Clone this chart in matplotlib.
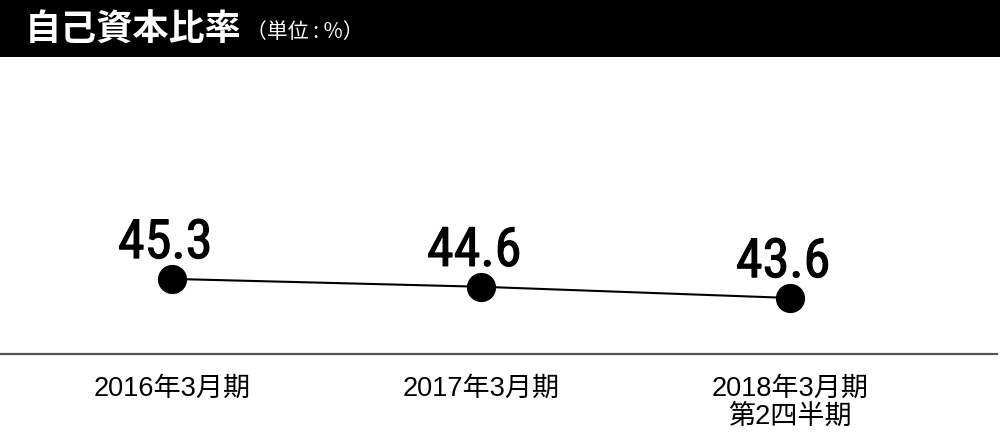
import matplotlib.pyplot as plt
import matplotlib.patheffects as pe
from matplotlib.patches import Rectangle

# Data ---------------------------------------------------------------------
periods = ['2016年3月期', '2017年3月期', '2018年3月期\n第2四半期']
ratio = [45.3, 44.6, 43.6]

title = '自己資本比率'
unit = '（単位 : %）'

cjk = ['Liberation Sans', 'Noto Sans CJK JP', 'DejaVu Sans']
plt.rcParams['font.family'] = cjk
num_fonts = ['Roboto Condensed', 'DejaVu Sans Condensed', 'Liberation Sans Narrow',
             'Roboto', 'DejaVu Sans']

W, H = 1000, 433
fig = plt.figure(figsize=(W / 100, H / 100), dpi=100)

# black header band
fig.patches.append(Rectangle((0, 1 - 57 / H), 1, 57 / H, transform=fig.transFigure,
                             facecolor='black', edgecolor='none', zorder=0))
fig.text(25 / W, 1 - 30 / H, title, color='white', fontsize=26, fontweight='bold',
         family=['Noto Sans CJK JP'], va='center', ha='left')
fig.text(246 / W, 1 - 32 / H, unit, color='white', fontsize=15,
         family=['Noto Sans CJK JP'], va='center', ha='left')

# plot area: bottom at the baseline (y=354px), top at header
ax = fig.add_axes([0, 1 - 354 / H, 1, (354 - 57) / H])
xs = list(range(len(ratio)))
ax.plot(xs, ratio, color='black', lw=1.5, marker='o', markersize=20,
        markerfacecolor='black', zorder=3, clip_on=False)

# normal weight thickened a little (medium is not installed)
thick = [pe.withStroke(linewidth=0.8, foreground='black')]
for x, v in zip(xs, ratio):
    ax.annotate('{:.1f}'.format(v), xy=(x, v), xytext=(-5, 15),
                textcoords='offset points', ha='center', va='baseline',
                fontsize=39, fontweight='normal', family=num_fonts,
                path_effects=thick)

ax.set_xlim(-172 / 309, (W - 172) / 309)
ax.set_ylim(38.6, 65.1)

ax.set_xticks(xs)
ax.set_xticklabels(periods, fontsize=19.5, linespacing=1.1)
ax.tick_params(axis='x', length=0, pad=16)
ax.set_yticks([])

for s in ['top', 'left', 'right']:
    ax.spines[s].set_visible(False)
ax.spines['bottom'].set_color('#555555')
ax.spines['bottom'].set_linewidth(1.6)
ax.spines['bottom'].set_bounds(-172 / 309, (997 - 172) / 309)
ax.patch.set_alpha(0)

plt.savefig('out.png', dpi=100)
